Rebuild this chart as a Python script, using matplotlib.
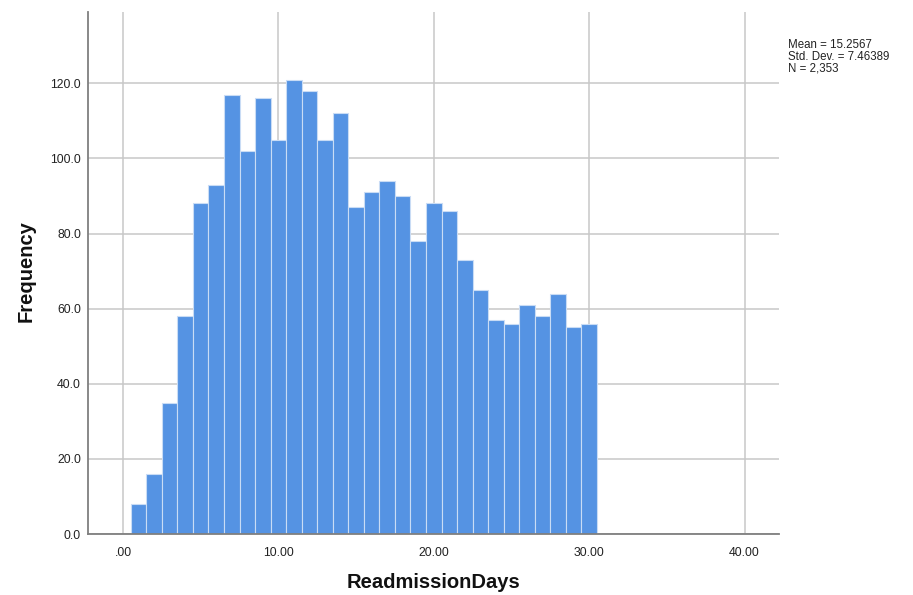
import matplotlib
matplotlib.use("Agg")
import matplotlib.pyplot as plt
import numpy as np

bin_centers = list(range(1, 31))
frequencies = [8, 16, 35, 58, 88, 93, 117, 102, 116, 105, 121, 118, 105, 112, 87,
               91, 94, 90, 78, 88, 86, 73, 65, 57, 56, 61, 58, 64, 55, 56]
x_ticks = [0, 10, 20, 30, 40]
x_tick_labels = [".00", "10.00", "20.00", "30.00", "40.00"]
y_ticks = [0, 20, 40, 60, 80, 100, 120]
y_tick_labels = ["0.0", "20.0", "40.0", "60.0", "80.0", "100.0", "120.0"]
stats_text = "Mean = 15.2567\nStd. Dev. = 7.46389\nN = 2,353"

plt.rcParams['font.family'] = ['Liberation Sans', 'DejaVu Sans']

fig = plt.figure(figsize=(9.13, 5.95), dpi=100)
ax = fig.add_axes([0.0964, 0.1025, 0.7566, 0.8775])

ax.bar(bin_centers, frequencies, width=1.0, color="#5593E3", edgecolor="#C9DCF5",
       linewidth=0.8, zorder=3)

ax.set_xlim(-2.25, 42.2)
ax.set_ylim(0, 139)
ax.set_xticks(x_ticks)
ax.set_xticklabels(x_tick_labels)
ax.set_yticks(y_ticks)
ax.set_yticklabels(y_tick_labels)
ax.tick_params(axis="both", length=0, labelsize=8.8, colors="#222222")
ax.tick_params(axis="x", pad=9)
ax.tick_params(axis="y", pad=5)

ax.grid(True, color="#C8C8C8", linewidth=1.1, zorder=0)
for s in ["top", "right"]:
    ax.spines[s].set_visible(False)
for s in ["left", "bottom"]:
    ax.spines[s].set_color("#7F7F7F")
    ax.spines[s].set_linewidth(1.3)
    ax.spines[s].set_zorder(4)

fig.text(433 / 913, 1 - 583 / 595, "ReadmissionDays", fontsize=14.5, fontweight="bold",
         ha="center", va="center", color="#111111")
fig.text(26 / 913, 1 - 271 / 595, "Frequency", fontsize=14.5, fontweight="bold",
         ha="center", va="center", rotation=90, color="#111111")

fig.text(788 / 913, 1 - 39 / 595, stats_text, fontsize=8.3, va="top", ha="left",
         linespacing=0.95, color="#222222")

fig.savefig("out.png", dpi=100)
